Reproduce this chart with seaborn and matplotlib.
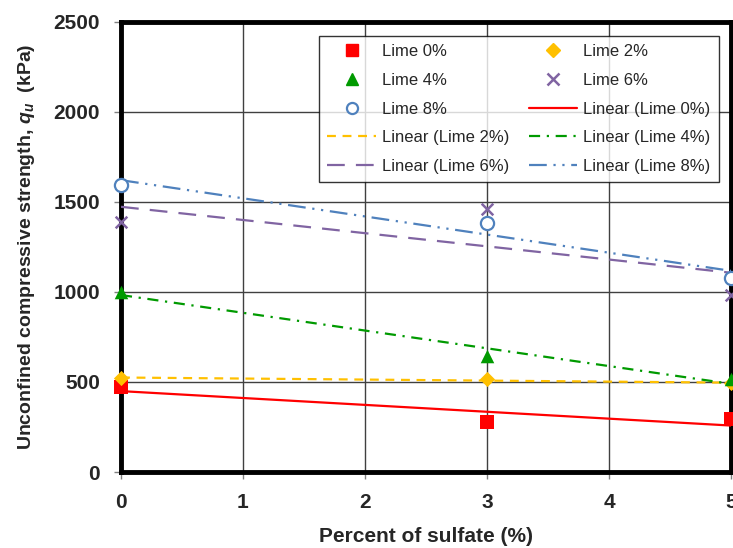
import numpy as np
import pandas as pd
import matplotlib
matplotlib.use("Agg")
import matplotlib.pyplot as plt
import seaborn as sns
from matplotlib.lines import Line2D

sulfate = [0, 3, 5]
lime0 = [472, 278, 292]
lime2 = [522, 515, 492]
lime4 = [1000, 645, 515]
lime6 = [1390, 1462, 982]
lime8 = [1595, 1385, 1078]

series_names = ["Lime 0%", "Lime 2%", "Lime 4%", "Lime 6%", "Lime 8%"]
series_values = [lime0, lime2, lime4, lime6, lime8]
colors = ["#FF0000", "#FFC000", "#009A00", "#8064A2", "#4F81BD"]
markers = ["s", "D", "^", "x", "o"]
xticks = [0, 1, 2, 3, 4, 5]
yticks = [0, 500, 1000, 1500, 2000, 2500]

sns.set_theme(style="white")
plt.rcParams["font.family"] = ["Liberation Sans", "DejaVu Sans"]
plt.rcParams["mathtext.fontset"] = "custom"
plt.rcParams["mathtext.it"] = "Liberation Sans:italic:bold"
plt.rcParams["mathtext.rm"] = "Liberation Sans:bold"

fig = plt.figure(figsize=(7.33, 5.48), dpi=100)
ax = fig.add_axes([121/733, 1-472/548, 610/733, 450/548])

linestyles = ["-", (0, (4, 3)), (0, (5, 3, 1, 3)), (0, (8, 5)), (0, (8, 3, 1, 3, 1, 3))]
line_handles = []
marker_handles = []
for name, vals, c, m, ls in zip(series_names, series_values, colors, markers, linestyles):
    df = pd.DataFrame({"x": sulfate, "y": vals})
    sns.regplot(data=df, x="x", y="y", scatter=False, ci=None, truncate=True, ax=ax,
                line_kws=dict(color=c, lw=1.6, linestyle=ls, zorder=3))
    ax.lines[-1].set_linestyle(ls)
    if m == "x":
        kws = dict(marker="x", s=70, color=c, linewidth=1.8)
    elif m == "o":
        kws = dict(marker="o", s=90, facecolor="white", edgecolor=c, linewidth=1.6)
    elif m == "D":
        kws = dict(marker="D", s=60, color=c, edgecolor=c, linewidth=0)
    else:
        kws = dict(marker=m, s=95, color=c, edgecolor=c, linewidth=0)
    sns.scatterplot(data=df, x="x", y="y", ax=ax, zorder=5, legend=False, **kws)
    ax.collections[-1].set_clip_on(False)
    if m == "o":
        mh = Line2D([], [], ls="none", marker="o", ms=8, mfc="white", mec=c, mew=1.6)
    elif m == "x":
        mh = Line2D([], [], ls="none", marker="x", ms=8, color=c, mew=1.8)
    elif m == "D":
        mh = Line2D([], [], ls="none", marker="D", ms=7, color=c, mec=c)
    else:
        mh = Line2D([], [], ls="none", marker=m, ms=9, color=c, mec=c)
    marker_handles.append((mh, name))
    line_handles.append((Line2D([], [], color=c, lw=1.6, linestyle=ls), f"Linear ({name})"))

ax.set_xlim(0, 5)
ax.set_ylim(0, 2500)
ax.set_xticks(xticks)
ax.set_yticks(yticks)
ax.set_xticklabels([str(t) for t in xticks], fontsize=15, fontweight="bold")
ax.set_yticklabels([str(t) for t in yticks], fontsize=15, fontweight="bold")
ax.grid(True, color="#404040", lw=1.0)
ax.set_axisbelow(True)
for s in ax.spines.values():
    s.set_visible(True)
    s.set_color("black")
    s.set_linewidth(3.5)
ax.tick_params(axis="both", which="major", length=5, width=1, color="#808080",
               direction="out", pad=10, bottom=True, left=True)
ax.set_xlabel("Percent of sulfate (%)", fontsize=15, fontweight="bold", labelpad=11)
ax.set_ylabel(r"Unconfined compressive strength, $q_u$  (kPa)", fontsize=14,
              fontweight="bold", labelpad=12)

all_items = marker_handles + line_handles
col1 = [all_items[i] for i in range(0, 10, 2)]
col2 = [all_items[i] for i in range(1, 10, 2)]
ordered = col1 + col2
leg = ax.legend([h for h, _ in ordered], [l for _, l in ordered], ncol=2,
                loc="upper left", bbox_to_anchor=((319-121)/610, (472-36)/450),
                fontsize=12, frameon=True, fancybox=False, edgecolor="black",
                handlelength=2.9, handletextpad=0.35, columnspacing=1.2,
                labelspacing=0.82, borderpad=0.5, borderaxespad=0)
leg.get_frame().set_linewidth(1.0)
leg.set_zorder(10)

fig.savefig("out.png", dpi=100)
